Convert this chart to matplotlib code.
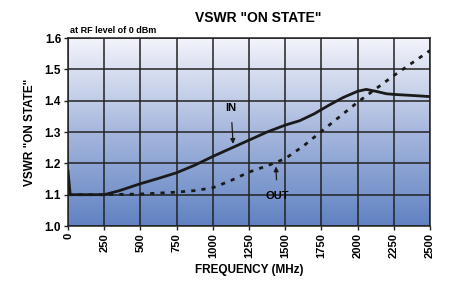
import numpy as np
import matplotlib.pyplot as plt
from matplotlib.colors import LinearSegmentedColormap

# Frequency (MHz) and VSWR readings taken off the chart
freq_in = [0, 15, 100, 250, 350, 500, 625, 750, 875, 1000, 1125, 1250, 1375, 1500, 1600, 1700, 1800, 1900, 2000, 2060, 2125, 2200, 2250, 2400, 2500]
vswr_in = [1.175, 1.10, 1.10, 1.10, 1.112, 1.135, 1.152, 1.17, 1.194, 1.222, 1.248, 1.274, 1.30, 1.322, 1.336, 1.358, 1.385, 1.41, 1.43, 1.436, 1.43, 1.422, 1.42, 1.416, 1.413]

freq_out = [0, 250, 500, 750, 875, 1000, 1125, 1250, 1375, 1500, 1625, 1750, 2000, 2250, 2500]
vswr_out = [1.10, 1.10, 1.102, 1.108, 1.113, 1.122, 1.145, 1.172, 1.192, 1.215, 1.255, 1.302, 1.395, 1.48, 1.56]

xticks = [0, 250, 500, 750, 1000, 1250, 1500, 1750, 2000, 2250, 2500]
yticks = [1.0, 1.1, 1.2, 1.3, 1.4, 1.5, 1.6]

plt.rcParams['font.family'] = ['Liberation Sans', 'DejaVu Sans']
plt.rcParams['font.weight'] = 'bold'

fig = plt.figure(figsize=(4.51, 2.83), dpi=100)
ax = fig.add_axes([0.1508, 0.2014, 0.8026, 0.6643])

# gradient background, light at the top, blue at the bottom
cmap = LinearSegmentedColormap.from_list('bg', ['#6082c2', '#a6b7dd', '#f3f4fb'])
grad = np.linspace(0, 1, 256).reshape(-1, 1)
ax.imshow(grad, cmap=cmap, origin='lower', aspect='auto',
          extent=[0, 2500, 1.0, 1.6], zorder=0)

ax.plot(freq_in, vswr_in, color='#1a1a1a', lw=2.0, zorder=3, solid_joinstyle='round')
ax.plot(freq_out, vswr_out, color='#1a1a1a', lw=2.0, ls=(0, (1.5, 2.2)), zorder=3)

ax.set_xlim(0, 2500)
ax.set_ylim(1.0, 1.6)
ax.set_xticks(xticks)
ax.set_yticks(yticks)
ax.set_xticklabels([str(t) for t in xticks], rotation=90, fontsize=8, fontweight='bold')
ax.set_yticklabels(['%.1f' % t for t in yticks], fontsize=8.5, fontweight='bold')
ax.tick_params(length=3, width=1, color='#222222', pad=2)
ax.grid(True, color='#222222', lw=1.1, zorder=1)
ax.set_axisbelow(False)
for s in ax.spines.values():
    s.set_color('#222222')
    s.set_linewidth(1.1)

ax.annotate('IN', xy=(1140, 1.262), xytext=(1126, 1.377), ha='center', va='center',
            fontsize=8, fontweight='bold',
            arrowprops=dict(arrowstyle='-|>', color='#1a1a1a', lw=0.9, mutation_scale=7,
                            shrinkA=5, shrinkB=0))
ax.annotate('OUT', xy=(1436, 1.19), xytext=(1445, 1.096), ha='center', va='center',
            fontsize=8, fontweight='bold',
            arrowprops=dict(arrowstyle='-|>', color='#1a1a1a', lw=0.9, mutation_scale=7,
                            shrinkA=6, shrinkB=0))

ax.set_xlabel('FREQUENCY (MHz)', fontsize=8.5, fontweight='bold', labelpad=4)
ax.set_ylabel('VSWR "ON STATE"', fontsize=8.5, fontweight='bold', labelpad=6)
fig.text(0.572, 0.935, 'VSWR "ON STATE"', ha='center', va='center', fontsize=10, fontweight='bold')
fig.text(0.155, 0.893, 'at RF level of 0 dBm', ha='left', va='center', fontsize=6.5, fontweight='bold')

fig.savefig('out.png', dpi=100)
